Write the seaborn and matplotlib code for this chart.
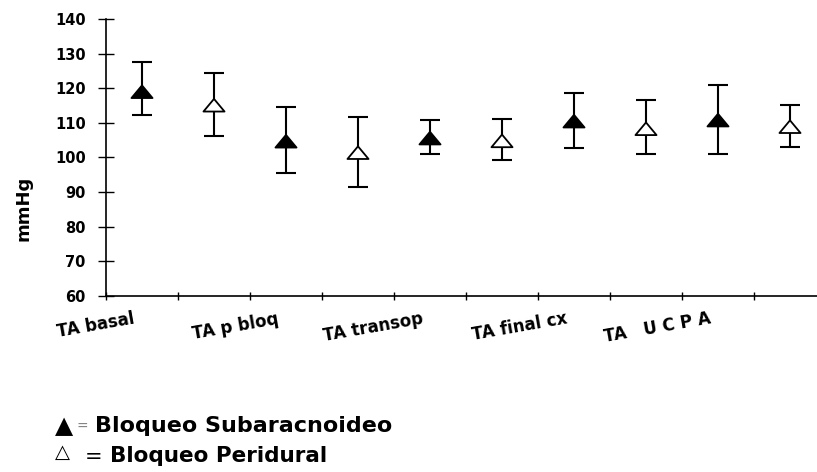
import numpy as np
import pandas as pd
import matplotlib
matplotlib.use('Agg')
import matplotlib.pyplot as plt
import seaborn as sns
from matplotlib.path import Path

# ===============================
# DATA
# ===============================
momentos = ['TA basal', 'TA p bloq', 'TA transop', 'TA final cx', 'TA   U C P A']
grupos = ['Bloqueo Subaracnoideo', 'Bloqueo Peridural']

sub_media = [119.0, 104.7, 105.6, 110.5, 110.8]
sub_sup = [127.5, 114.6, 110.9, 118.7, 120.9]
sub_inf = [112.3, 95.5, 101.0, 102.7, 101.0]

per_media = [115.1, 101.4, 104.8, 108.3, 108.9]
per_sup = [124.3, 111.6, 111.2, 116.6, 115.3]
per_inf = [106.2, 91.5, 99.2, 101.0, 103.0]

y_ticks = [60, 70, 80, 90, 100, 110, 120, 130, 140]

# long table: each time point holds two slots, subaracnoideo then peridural
rows = []
for g, (media, sup, inf) in enumerate([(sub_media, sub_sup, sub_inf),
                                       (per_media, per_sup, per_inf)]):
    for i, m in enumerate(momentos):
        rows.append({'momento': m, 'grupo': grupos[g], 'pos': 2 * i + g,
                     'media': media[i], 'sup': sup[i], 'inf': inf[i]})
df = pd.DataFrame(rows)

# ===============================
# STYLE
# ===============================
sns.set_style('ticks', {'axes.edgecolor': 'black', 'xtick.color': 'black',
                        'ytick.color': 'black', 'text.color': 'black',
                        'axes.labelcolor': 'black'})
plt.rcParams['font.family'] = ['DejaVu Sans']
plt.rcParams['font.weight'] = 'bold'

fig = plt.figure(figsize=(8.17, 4.72), dpi=100)
ax = fig.add_axes([106 / 817, 176 / 472, 711 / 817, 277 / 472])

# flat triangle marker, like the Excel one
tri = Path([(-1, -0.6), (1, -0.6), (0, 0.6), (-1, -0.6)], closed=True)

# error bars first, markers on top
for g in grupos:
    d = df[df['grupo'] == g]
    ax.errorbar(d['pos'], d['media'], yerr=[d['media'] - d['inf'], d['sup'] - d['media']],
                fmt='none', ecolor='black', elinewidth=1.5, capsize=7.5, capthick=1.5,
                zorder=2)

sns.scatterplot(data=df, x='pos', y='media', hue='grupo', style='grupo',
                markers={grupos[0]: tri, grupos[1]: tri},
                palette={grupos[0]: 'black', grupos[1]: 'white'},
                edgecolor='black', linewidth=1.3, s=230, legend=False,
                zorder=3, ax=ax)

# ===============================
# AXES
# ===============================
ax.set_xlim(-0.5, 9.375)
ax.set_ylim(60, 140)
ax.set_yticks(y_ticks)
ax.set_yticklabels([str(v) for v in y_ticks])

# tick marks on the slot borders, names (minor ticks) shifted right of every second border
bordes = np.arange(-0.5, 9.0, 1)
ax.set_xticks(bordes)
ax.set_xticklabels([])
ax.set_xticks(bordes[::2] + 0.42, minor=True)
ax.set_xticklabels(momentos, minor=True, rotation=10, ha='right')

ax.tick_params(axis='y', direction='inout', length=11, width=1, labelsize=10.5, pad=9)
ax.tick_params(axis='x', which='major', direction='inout', length=5.5, width=1)
ax.tick_params(axis='x', which='minor', length=0, labelsize=12, pad=10)
sns.despine(ax=ax)
for sp in ['left', 'bottom']:
    ax.spines[sp].set_linewidth(1.2)

ax.set_xlabel('')
ax.set_ylabel('mmHg', fontsize=13, fontweight='bold')
ax.yaxis.set_label_coords(-0.1027, 0.316)

# ===============================
# LEGEND (as text, like the original)
# ===============================
fig.text(55 / 817, 1 - 433 / 472, '\u25B2', fontsize=17, va='baseline', fontweight='normal')
fig.text(77 / 817, 1 - 431 / 472, '=', fontsize=10, va='baseline', color='gray', fontweight='normal')
fig.text(95 / 817, 1 - 432 / 472, 'Bloqueo Subaracnoideo', fontsize=16, va='baseline')
fig.text(55 / 817, 1 - 458 / 472, '\u25B3', fontsize=14, va='baseline', fontweight='normal')
fig.text(85 / 817, 1 - 463 / 472, '=', fontsize=15, va='baseline', fontweight='normal')
fig.text(110 / 817, 1 - 462 / 472, 'Bloqueo Peridural', fontsize=15.5, va='baseline')

fig.savefig('out.png', dpi=100)
